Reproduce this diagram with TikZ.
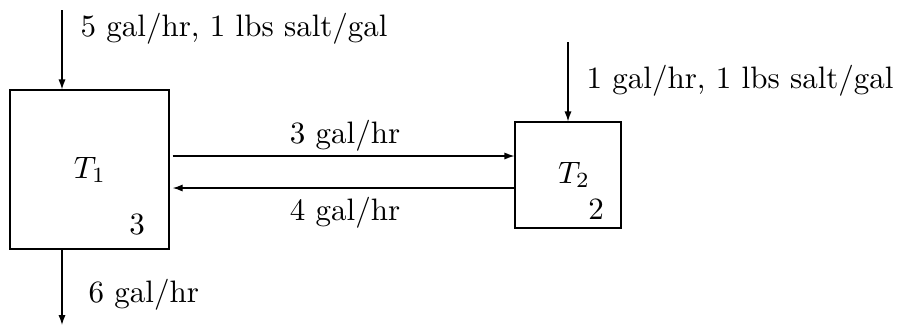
\documentclass[tikz,border=0pt]{standalone}
\usetikzlibrary{arrows.meta}
\begin{document}
\begin{tikzpicture}[x=0.3226pt,y=-0.3226pt,
  flow/.style={-{Latex[length=3.2pt,width=2.3pt]},line width=0.4pt},
  tank/.style={draw,line width=0.4pt,inner sep=0pt},
  lbl/.style={inner sep=0pt}]
\useasboundingbox (0,0) rectangle (898,329);
\node[tank,minimum width=51.3pt,minimum height=51.3pt] (T1) at (89.5,169.5) {};
\node[tank,minimum width=34.2pt,minimum height=34.2pt] (T2) at (568,175) {};
\node[lbl] (t1) at (90,170) {$T_1$};
\node[lbl] (n1) at (137,225) {$3$};
\node[lbl] (t2) at (574,175) {$T_2$};
\node[lbl] (n2) at (596,210) {$2$};
\coordinate (in1) at (62,10);
\coordinate (in2) at (568,42);
\coordinate (out1) at (62,325);
\coordinate (a) at (0,156);
\coordinate (b) at (0,188);
\draw[flow] (in1) -- (in1 |- T1.north);
\draw[flow] (in2) -- (T2.north);
\draw[flow] (in1 |- T1.south) -- (out1);
\draw[flow,shorten <=1pt] (T1.east |- a) -- (T2.west |- a);
\draw[flow] (T2.west |- b) -- ([xshift=1pt]T1.east |- b);
\node[lbl,anchor=base west] (l1) at (80,36) {5 gal/hr, 1 lbs salt/gal};
\node[lbl,anchor=base west] (l2) at (586,88) {1 gal/hr, 1 lbs salt/gal};
\node[lbl,anchor=base] (l3) at (345,143) {3 gal/hr};
\node[lbl,anchor=base] (l4) at (345,220) {4 gal/hr};
\node[lbl,anchor=base west] (l5) at (88,302) {6 gal/hr};
\end{tikzpicture}
\end{document}
